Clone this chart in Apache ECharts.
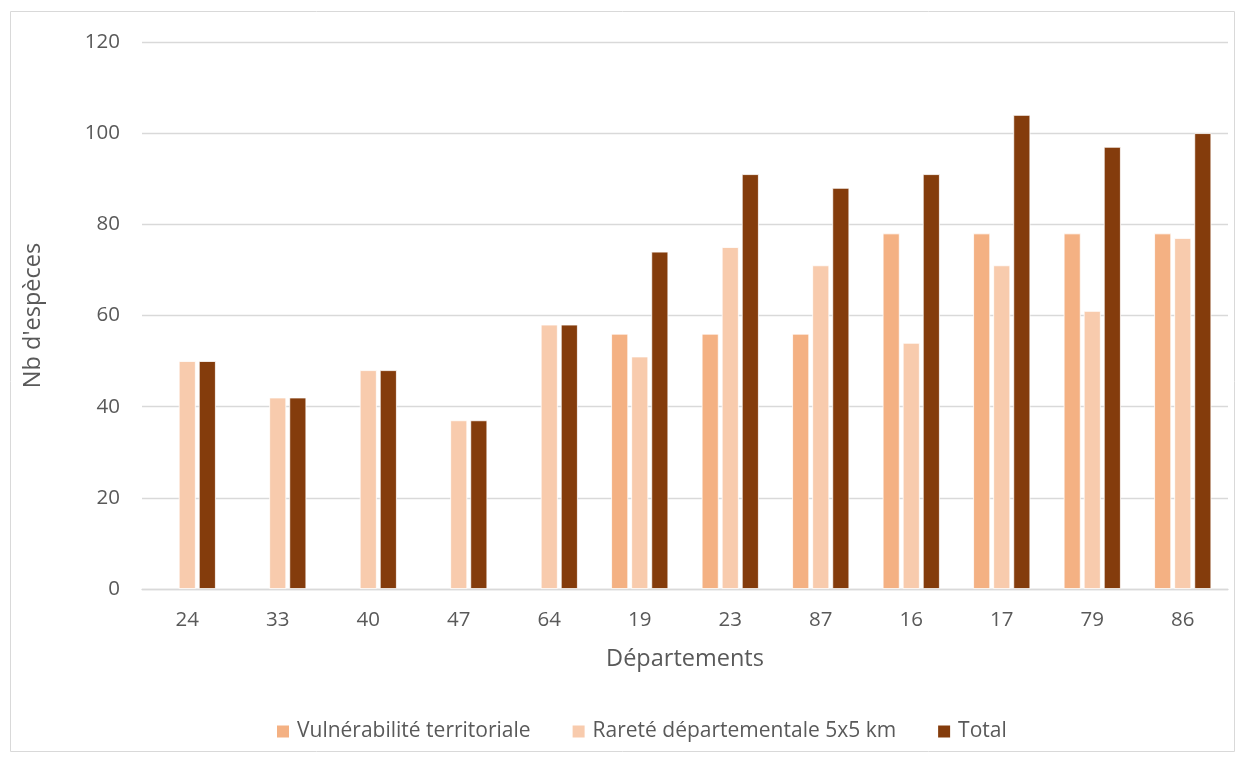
<!DOCTYPE html>
<html><head><meta charset="utf-8">
<script src="https://cdn.jsdelivr.net/npm/echarts@6/dist/echarts.min.js"></script>
<style>html,body{margin:0;padding:0;background:#fff}#c{width:1245px;height:760px}</style>
</head><body><div id="c"></div>
<script>
var categories = ['24','33','40','47','64','19','23','87','16','17','79','86'];
var vulnerabilite = [null,null,null,null,null,56,56,56,78,78,78,78];
var rarete = [50,42,48,37,58,51,75,71,54,71,61,77];
var total = [50,42,48,37,58,74,91,88,91,104,97,100];
var seriesNames = ['Vulnérabilité territoriale','Rareté départementale 5x5 km','Total'];
var colors = ['#F4B183','#F8CBAD','#843C0C'];
var font = '"Open Sans", "Noto Sans", sans-serif';
var chart = echarts.init(document.getElementById('c'));
function mk(name, data, color){
  return {name:name,type:'bar',data:data,barWidth:17,barGap:'18%',
    itemStyle:{color:color,borderColor:'#fff',borderWidth:0.8}};
}
chart.setOption({
  animation:false,
  graphic:[{type:'rect',shape:{x:10.5,y:11.5,width:1224,height:740},style:{fill:'none',stroke:'#d9d9d9',lineWidth:1}}],
  grid:{left:142,right:17,top:42,bottom:171},
  legend:{top:716,left:270,itemWidth:14,itemHeight:14,itemGap:40,icon:'rect',
    textStyle:{fontFamily:font,fontSize:21,color:'#595959',padding:[0,0,0,2]},data:seriesNames},
  xAxis:{type:'category',data:categories,
    name:'Départements',nameLocation:'middle',nameGap:58,
    nameTextStyle:{fontFamily:font,fontSize:23.5,color:'#595959'},
    axisLine:{lineStyle:{color:'#d9d9d9',width:1.3}},axisTick:{show:false},
    axisLabel:{fontFamily:font,fontSize:20.5,color:'#595959',margin:21}},
  yAxis:{type:'value',min:0,max:120,interval:20,
    name:"Nb d'espèces",nameLocation:'middle',nameGap:97,
    nameTextStyle:{fontFamily:font,fontSize:23.5,color:'#595959'},
    axisLine:{show:false},axisTick:{show:false},
    splitLine:{lineStyle:{color:'#d9d9d9',width:1.3}},
    axisLabel:{fontFamily:font,fontSize:20.5,color:'#595959',margin:22}},
  series:[mk(seriesNames[0],vulnerabilite,colors[0]),mk(seriesNames[1],rarete,colors[1]),mk(seriesNames[2],total,colors[2])]
});
</script></body></html>
